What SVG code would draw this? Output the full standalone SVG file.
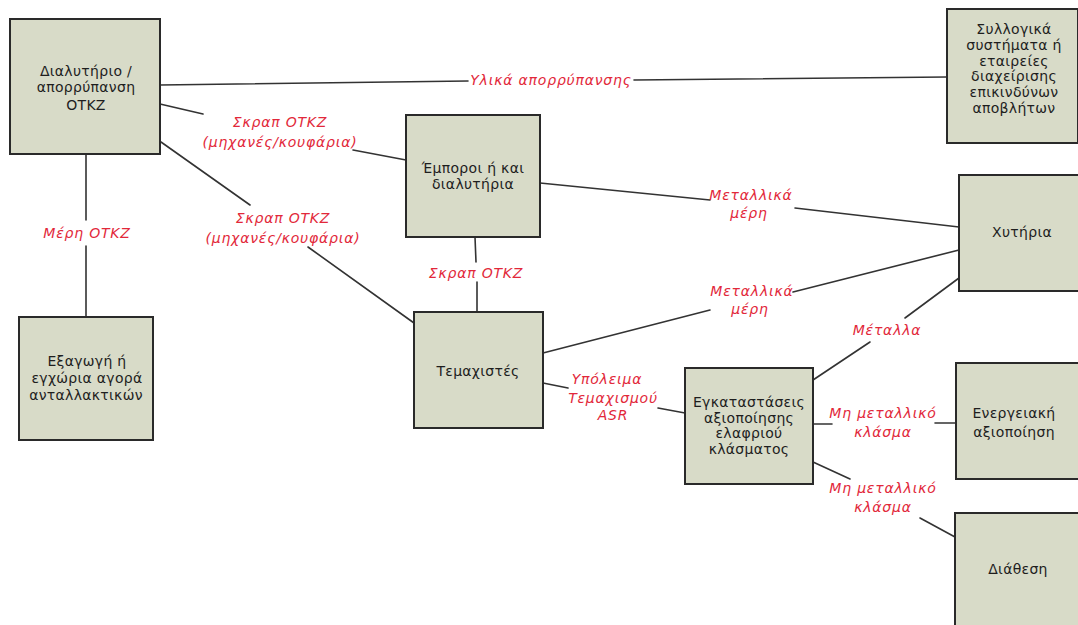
<svg xmlns="http://www.w3.org/2000/svg" width="1078" height="625" viewBox="0 0 1078 625">
  <style>
    .box { fill: #d8dbc8; stroke: #2a2a2a; stroke-width: 2; }
    .node-text { font-family: "DejaVu Sans", "Liberation Sans", sans-serif; font-size: 14px; letter-spacing: 0.3px; fill: #1e1e1e; text-anchor: middle; }
    .edge { stroke: #333333; stroke-width: 1.6; fill: none; stroke-linecap: round; }
    .edge-label { font-family: "DejaVu Sans", "Liberation Sans", sans-serif; font-size: 14px; font-style: italic; letter-spacing: 0.8px; fill: #e2283a; text-anchor: middle; }
  </style>
  <rect width="1078" height="625" fill="#ffffff"/>

  <!-- connectors (line segments are broken where their labels sit) -->
  <g id="connectors">
    <path class="edge" d="M160,85 L468,81 M634,80 L947,77"/>
    <text class="edge-label" x="551" y="85">Υλικά απορρύπανσης</text>

    <path class="edge" d="M160,104 L203,114 M353,150 L406,160"/>
    <text class="edge-label" x="280" y="127">Σκραπ ΟΤΚΖ</text>
    <text class="edge-label" x="280" y="147">(μηχανές/κουφάρια)</text>

    <path class="edge" d="M161,142 L250,205 M308,247 L414,323"/>
    <text class="edge-label" x="283" y="223">Σκραπ ΟΤΚΖ</text>
    <text class="edge-label" x="283" y="243">(μηχανές/κουφάρια)</text>

    <path class="edge" d="M86,154 L86,220 M86,246 L86,317"/>
    <text class="edge-label" x="87" y="238">Μέρη ΟΤΚΖ</text>

    <path class="edge" d="M475,237 L476,262 M477,282 L477,312"/>
    <text class="edge-label" x="476" y="278">Σκραπ ΟΤΚΖ</text>

    <path class="edge" d="M540,183 L710,200 M795,208 L959,227"/>
    <text class="edge-label" x="751" y="200">Μεταλλικά</text>
    <text class="edge-label" x="749" y="218">μέρη</text>

    <path class="edge" d="M543,353 L710,310 M793,292 L959,250"/>
    <text class="edge-label" x="752" y="296">Μεταλλικά</text>
    <text class="edge-label" x="750" y="314">μέρη</text>

    <path class="edge" d="M813,380 L870,342 M905,318 L959,278"/>
    <text class="edge-label" x="887" y="335">Μέταλλα</text>

    <path class="edge" d="M543,383 L568,388 M658,408 L685,413"/>
    <text class="edge-label" x="607" y="384">Υπόλειμα</text>
    <text class="edge-label" x="613" y="403">Τεμαχισμού</text>
    <text class="edge-label" x="613" y="420">ASR</text>

    <path class="edge" d="M813,424 L832,424 M935,423 L956,423"/>
    <text class="edge-label" x="883" y="418">Μη μεταλλικό</text>
    <text class="edge-label" x="883" y="437">κλάσμα</text>

    <path class="edge" d="M813,462 L850,479 M920,518 L955,537"/>
    <text class="edge-label" x="883" y="493">Μη μεταλλικό</text>
    <text class="edge-label" x="883" y="512">κλάσμα</text>
  </g>

  <!-- nodes -->
  <g id="dismantler">
    <rect class="box" x="10" y="19" width="150" height="135"/>
    <text class="node-text" x="86" y="76">Διαλυτήριο /</text>
    <text class="node-text" x="86" y="92">απορρύπανση</text>
    <text class="node-text" x="86" y="110">ΟΤΚΖ</text>
  </g>

  <g id="parts-market">
    <rect class="box" x="19" y="317" width="134" height="123"/>
    <text class="node-text" x="87" y="366">Εξαγωγή ή</text>
    <text class="node-text" x="87" y="383">εγχώρια αγορά</text>
    <text class="node-text" x="86" y="400">ανταλλακτικών</text>
  </g>

  <g id="traders">
    <rect class="box" x="406" y="115" width="134" height="122"/>
    <text class="node-text" x="473" y="173">Έμποροι ή και</text>
    <text class="node-text" x="473" y="189">διαλυτήρια</text>
  </g>

  <g id="collective-systems">
    <rect class="box" x="947" y="9" width="131" height="134"/>
    <text class="node-text" x="1014" y="34">Συλλογικά</text>
    <text class="node-text" x="1014" y="50">συστήματα ή</text>
    <text class="node-text" x="1014" y="66">εταιρείες</text>
    <text class="node-text" x="1014" y="81">διαχείρισης</text>
    <text class="node-text" x="1014" y="97">επικινδύνων</text>
    <text class="node-text" x="1014" y="113">αποβλήτων</text>
  </g>

  <g id="foundries">
    <rect class="box" x="959" y="175" width="125" height="116"/>
    <text class="node-text" x="1022" y="237">Χυτήρια</text>
  </g>

  <g id="shredders">
    <rect class="box" x="414" y="312" width="129" height="116"/>
    <text class="node-text" x="478" y="376">Τεμαχιστές</text>
  </g>

  <g id="light-fraction">
    <rect class="box" x="685" y="368" width="128" height="116"/>
    <text class="node-text" x="749" y="407">Εγκαταστάσεις</text>
    <text class="node-text" x="749" y="423">αξιοποίησης</text>
    <text class="node-text" x="749" y="438">ελαφριού</text>
    <text class="node-text" x="749" y="454">κλάσματος</text>
  </g>

  <g id="energy-recovery">
    <rect class="box" x="956" y="363" width="125" height="116"/>
    <text class="node-text" x="1014" y="418">Ενεργειακή</text>
    <text class="node-text" x="1014" y="437">αξιοποίηση</text>
  </g>

  <g id="disposal">
    <rect class="box" x="955" y="513" width="126" height="120"/>
    <text class="node-text" x="1018" y="574">Διάθεση</text>
  </g>
</svg>
